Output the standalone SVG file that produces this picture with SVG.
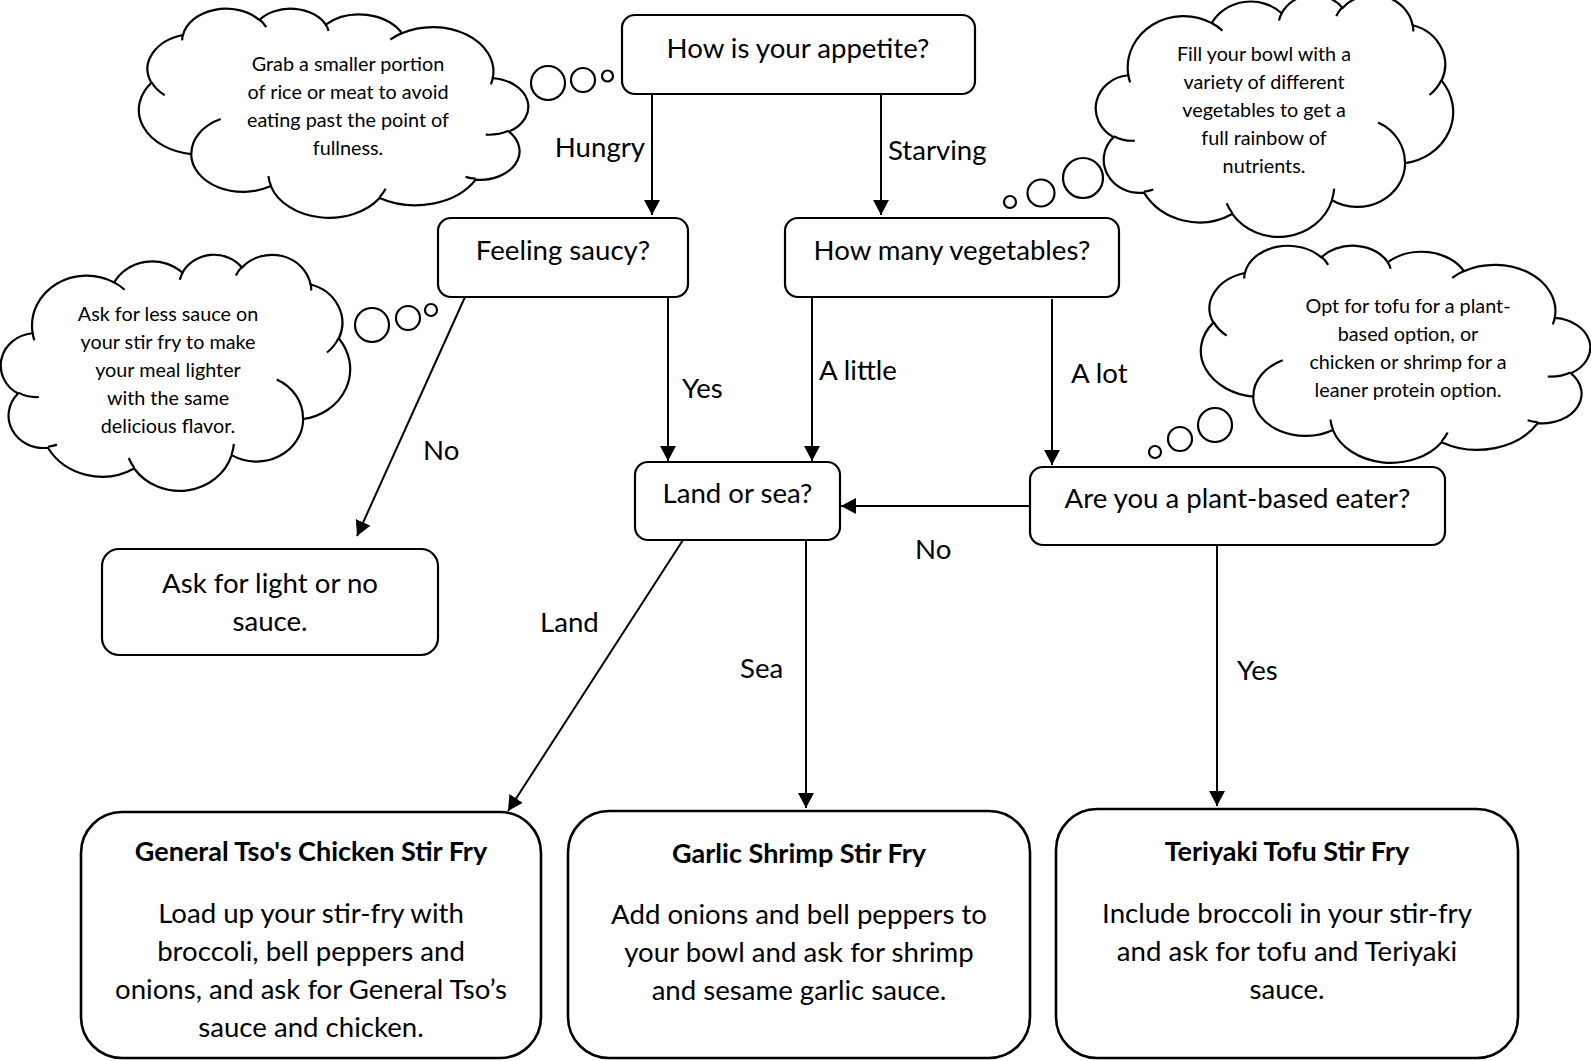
<svg xmlns="http://www.w3.org/2000/svg" xmlns:xlink="http://www.w3.org/1999/xlink" width="1591" height="1061" viewBox="0 0 1591 1061">
<style>
.box{fill:#fff;stroke:#000;stroke-width:2.2}
.big{stroke-width:2.6}
.t{font-family:Lato,"Open Sans",sans-serif;font-size:27.6px;fill:#000}
.m{text-anchor:middle}
.e{text-anchor:end}
.ct{font-size:19.8px}
.bt{font-weight:bold;font-size:27px}
.bub{fill:#fff;stroke:#000;stroke-width:2.2}
.edge{stroke:#000;stroke-width:2;fill:none;marker-end:url(#ah)}
</style>
<defs>
<marker id="ah" viewBox="0 0 15 16" refX="15" refY="8" markerWidth="15" markerHeight="16" markerUnits="userSpaceOnUse" orient="auto"><path d="M0,0 L15,8 L0,16 z" fill="#000"/></marker>
<path id="cloudShape" vector-effect="non-scaling-stroke" fill="#fff" stroke="#000" stroke-width="2.2" d="M3900 14370 A6753 9190 0 0 1 14006 5202 A5333 7267 0 0 1 22457 3431 A4365 5945 0 0 1 29835 2481 A4857 6595 0 0 1 38320 5576 A5333 7273 0 0 1 41820 15460 A6775 9220 0 0 1 37406 30202 A5785 7867 0 0 1 28557 36812 A6752 9215 0 0 1 16482 39265 A7720 10543 0 0 1 5805 35470 A4360 5918 0 0 1 2114 25548 A4345 5945 0 0 1 3864 14504 Z"/>
<path id="cloudCrease" vector-effect="non-scaling-stroke" fill="none" stroke="#000" stroke-width="2.2" d="M4693 26177 A4345 5945 0 0 1 2160 25380 M6928 34899 A4360 5918 0 0 1 5820 35280 M16478 39090 A6752 9215 0 0 1 15809 37348 M28827 34751 A6752 9215 0 0 1 28560 36660 M34129 22954 A5785 7867 0 0 1 37381 30090 M41798 15354 A5333 7273 0 0 1 40349 18031 M38324 5426 A4857 6595 0 0 1 38400 6689 M29078 3952 A4857 6595 0 0 1 29820 2339 M22141 4720 A4365 5945 0 0 1 22500 3330 M14000 5192 A6753 9190 0 0 1 15299 6540 M4127 15789 A6753 9190 0 0 1 3900 14372"/>
</defs>
<rect width="1591" height="1061" fill="#fff"/>

<g id="connectors">
<line class="edge" x1="652" y1="94" x2="652" y2="215"/>
<line class="edge" x1="881" y1="94" x2="881" y2="215"/>
<line class="edge" x1="668" y1="297" x2="668" y2="461"/>
<line class="edge" x1="465" y1="297" x2="357" y2="536"/>
<line class="edge" x1="812" y1="297" x2="812" y2="461"/>
<line class="edge" x1="1052" y1="299" x2="1052" y2="465"/>
<line class="edge" x1="1030" y1="506" x2="841" y2="506"/>
<line class="edge" x1="683" y1="540" x2="508" y2="811"/>
<line class="edge" x1="806" y1="540" x2="806" y2="808"/>
<line class="edge" x1="1217" y1="545" x2="1217" y2="806"/>
<text class="t e" x="645" y="157">Hungry</text>
<text class="t" x="888" y="160">Starving</text>
<text class="t" x="682" y="398">Yes</text>
<text class="t" x="423" y="460">No</text>
<text class="t" x="819" y="380">A little</text>
<text class="t" x="1071" y="383">A lot</text>
<text class="t" x="915" y="559">No</text>
<text class="t" x="540" y="632">Land</text>
<text class="t" x="740" y="678">Sea</text>
<text class="t" x="1237" y="680">Yes</text>
</g>

<g id="cloud-portion">
<circle class="bub" cx="548" cy="83" r="17"/>
<circle class="bub" cx="583" cy="80" r="12"/>
<circle class="bub" cx="607.5" cy="76" r="5.5"/>
<use xlink:href="#cloudShape" transform="translate(528,8) scale(-0.0090046,0.0048380)"/>
<use xlink:href="#cloudCrease" transform="translate(528,8) scale(-0.0090046,0.0048380)"/>
<text class="t ct m" x="348" y="71">Grab a smaller portion</text>
<text class="t ct m" x="348" y="99">of rice or meat to avoid</text>
<text class="t ct m" x="348" y="127">eating past the point of</text>
<text class="t ct m" x="348" y="155">fullness.</text>
</g>

<g id="cloud-vegetables">
<circle class="bub" cx="1010" cy="202" r="6"/>
<circle class="bub" cx="1041" cy="193" r="13.5"/>
<circle class="bub" cx="1083" cy="178" r="20"/>
<use xlink:href="#cloudShape" transform="translate(1096,-6) scale(0.0082639,0.0056019)"/>
<use xlink:href="#cloudCrease" transform="translate(1096,-6) scale(0.0082639,0.0056019)"/>
<text class="t ct m" x="1264" y="61">Fill your bowl with a</text>
<text class="t ct m" x="1264" y="89">variety of different</text>
<text class="t ct m" x="1264" y="117">vegetables to get a</text>
<text class="t ct m" x="1264" y="145">full rainbow of</text>
<text class="t ct m" x="1264" y="173">nutrients.</text>
</g>

<g id="cloud-sauce">
<circle class="bub" cx="372" cy="325" r="17"/>
<circle class="bub" cx="408" cy="318" r="12"/>
<circle class="bub" cx="431" cy="310" r="6"/>
<use xlink:href="#cloudShape" transform="translate(1,254) scale(0.0080787,0.0054630)"/>
<use xlink:href="#cloudCrease" transform="translate(1,254) scale(0.0080787,0.0054630)"/>
<text class="t ct m" x="168" y="321">Ask for less sauce on</text>
<text class="t ct m" x="168" y="349">your stir fry to make</text>
<text class="t ct m" x="168" y="377">your meal lighter</text>
<text class="t ct m" x="168" y="405">with the same</text>
<text class="t ct m" x="168" y="433">delicious flavor.</text>
</g>

<g id="cloud-protein">
<circle class="bub" cx="1155" cy="452" r="6"/>
<circle class="bub" cx="1180" cy="439" r="12"/>
<circle class="bub" cx="1215" cy="425" r="17"/>
<use xlink:href="#cloudShape" transform="translate(1590,245) scale(-0.0090046,0.0050231)"/>
<use xlink:href="#cloudCrease" transform="translate(1590,245) scale(-0.0090046,0.0050231)"/>
<text class="t ct m" x="1408" y="313">Opt for tofu for a plant-</text>
<text class="t ct m" x="1408" y="341">based option, or</text>
<text class="t ct m" x="1408" y="369">chicken or shrimp for a</text>
<text class="t ct m" x="1408" y="397">leaner protein option.</text>
</g>

<g id="node-appetite">
<rect class="box" x="622" y="15" width="353" height="79" rx="13"/>
<text class="t m" x="798" y="58">How is your appetite?</text>
</g>
<g id="node-saucy">
<rect class="box" x="438" y="218" width="250" height="79" rx="13"/>
<text class="t m" x="563" y="260">Feeling saucy?</text>
</g>
<g id="node-vegetables">
<rect class="box" x="785" y="218" width="334" height="79" rx="13"/>
<text class="t m" x="952" y="260">How many vegetables?</text>
</g>
<g id="node-landsea">
<rect class="box" x="635" y="462" width="205" height="78" rx="13"/>
<text class="t m" x="737.5" y="503">Land or sea?</text>
</g>
<g id="node-plant">
<rect class="box" x="1030" y="467" width="415" height="78" rx="13"/>
<text class="t m" x="1237.5" y="508">Are you a plant-based eater?</text>
</g>
<g id="node-light">
<rect class="box" x="102" y="549" width="336" height="106" rx="17"/>
<text class="t m" x="270" y="593">Ask for light or no</text>
<text class="t m" x="270" y="631">sauce.</text>
</g>
<g id="node-chicken">
<rect class="box big" x="81" y="812" width="460" height="246" rx="41"/>
<text class="t bt m" x="311" y="861">General Tso's Chicken Stir Fry</text>
<text class="t m" x="311" y="923">Load up your stir-fry with</text>
<text class="t m" x="311" y="961">broccoli, bell peppers and</text>
<text class="t m" x="311" y="999">onions, and ask for General Tso’s</text>
<text class="t m" x="311" y="1037">sauce and chicken.</text>
</g>
<g id="node-shrimp">
<rect class="box big" x="568" y="811" width="462" height="247" rx="41"/>
<text class="t bt m" x="799" y="863">Garlic Shrimp Stir Fry</text>
<text class="t m" x="799" y="924">Add onions and bell peppers to</text>
<text class="t m" x="799" y="962">your bowl and ask for shrimp</text>
<text class="t m" x="799" y="1000">and sesame garlic sauce.</text>
</g>
<g id="node-tofu">
<rect class="box big" x="1056" y="809" width="462" height="249" rx="41"/>
<text class="t bt m" x="1287" y="861">Teriyaki Tofu Stir Fry</text>
<text class="t m" x="1287" y="923">Include broccoli in your stir-fry</text>
<text class="t m" x="1287" y="961">and ask for tofu and Teriyaki</text>
<text class="t m" x="1287" y="999">sauce.</text>
</g>
</svg>
